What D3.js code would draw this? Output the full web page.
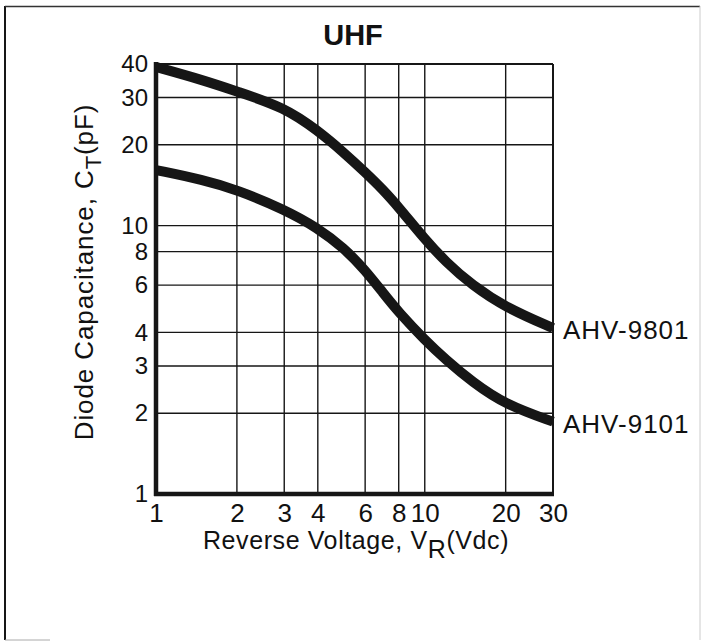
<!DOCTYPE html>
<html><head><meta charset="utf-8">
<script src="https://cdn.jsdelivr.net/npm/d3@7"></script>
<style>body{margin:0;background:#fff}svg{display:block}text{font-family:"Liberation Sans",Arial,sans-serif;fill:#111}</style>
</head><body><svg id="c" width="702" height="642"></svg>
<script>
const title = "UHF";
const xTicks = [1,2,3,4,6,8,10,20,30];
const yTicks = [1,2,3,4,6,8,10,20,30,40];
const voltage = [1,1.5,2,3,4,5,6,7,8,10,12,15,20,30];
const ahv9801 = [39,34.8,31.6,27.6,22.6,18.7,15.8,13.6,11.7,8.9,7.3,6.0,4.95,4.15];
const ahv9101 = [16.1,14.8,13.6,11.5,9.8,8.25,6.83,5.61,4.75,3.75,3.16,2.62,2.15,1.86];
const seriesNames = ["AHV-9801","AHV-9101"];

const svg = d3.select("#c");
const L=156,R=553,T=64,B=494;
const x = d3.scaleLog().domain([1,30]).range([L,R]);
const y = d3.scaleLog().domain([1,40]).range([B,T]);
const ink = "#161616";

// outer frame
svg.append("line").attr("x1",5).attr("x2",5).attr("y1",6).attr("y2",640).attr("stroke",ink).attr("stroke-width",2);
svg.append("line").attr("x1",5).attr("x2",700).attr("y1",6.5).attr("y2",6.5).attr("stroke","#333").attr("stroke-width",1.5);
svg.append("line").attr("x1",700).attr("x2",700).attr("y1",6).attr("y2",640).attr("stroke","#ccc").attr("stroke-width",1);
svg.append("line").attr("x1",5).attr("x2",50).attr("y1",640).attr("y2",640).attr("stroke","#aaa").attr("stroke-width",1);

// title
svg.append("text").attr("x",353).attr("y",45).attr("text-anchor","middle").attr("font-size",29).attr("font-weight","bold").text(title);

// grid
const g = svg.append("g");
g.selectAll(".vx").data(xTicks.filter(d=>d>1 && d<30)).join("line")
 .attr("x1",d=>x(d)).attr("x2",d=>x(d)).attr("y1",T).attr("y2",B).attr("stroke",ink).attr("stroke-width",1.4);
g.selectAll(".hy").data(yTicks.filter(d=>d>1 && d<40)).join("line")
 .attr("x1",L).attr("x2",R).attr("y1",d=>y(d)).attr("y2",d=>y(d)).attr("stroke",ink).attr("stroke-width",1.4);
g.append("line").attr("x1",L).attr("x2",R).attr("y1",T).attr("y2",T).attr("stroke",ink).attr("stroke-width",2);
g.append("line").attr("x1",R).attr("x2",R).attr("y1",T).attr("y2",B).attr("stroke",ink).attr("stroke-width",2);

// axes via d3
const xAxis = d3.axisBottom(x).tickValues(xTicks).tickFormat(d3.format("d")).tickSize(0).tickPadding(10);
const yAxis = d3.axisLeft(y).tickValues(yTicks).tickFormat(d3.format("d")).tickSize(0).tickPadding(8);
const gx = svg.append("g").attr("transform",`translate(0,${B})`).call(xAxis);
const gy = svg.append("g").attr("transform",`translate(${L},0)`).call(yAxis);
[gx,gy].forEach(a=>{a.select(".domain").remove();a.selectAll("text").attr("fill",ink).attr("font-family","Liberation Sans, Arial, sans-serif");});
gx.selectAll("text").attr("font-size",26).attr("dy","0.71em");
gy.selectAll("text").attr("font-size",24);

// data curves
const line = d3.line().x(d=>x(d[0])).y(d=>y(d[1])).curve(d3.curveBasis);
[ahv9801,ahv9101].forEach((s,i)=>{
  const pts = voltage.map((v,j)=>[v,s[j]]);
  svg.append("path").attr("d",line(pts)).attr("fill","none").attr("stroke",ink).attr("stroke-width",10).attr("stroke-linecap","butt");
  svg.append("text").attr("x",R+10).attr("y",y(s[s.length-1])+2).attr("dy","0.36em").attr("font-size",26).attr("letter-spacing",1).text(seriesNames[i]);
});

// thick left & bottom axes
svg.append("line").attr("x1",L).attr("x2",L).attr("y1",T-2).attr("y2",B+2).attr("stroke",ink).attr("stroke-width",4.5);
svg.append("line").attr("x1",L-2).attr("x2",R+1).attr("y1",B).attr("y2",B).attr("stroke",ink).attr("stroke-width",4.5);

// axis titles
const xt = svg.append("text").attr("x",356).attr("y",549).attr("text-anchor","middle").attr("font-size",25).attr("letter-spacing",0.6);
xt.append("tspan").text("Reverse Voltage, V");
xt.append("tspan").attr("dy",9).text("R");
xt.append("tspan").attr("dy",-9).text("(Vdc)");
const yt = svg.append("text").attr("transform","translate(93,272) rotate(-90)").attr("text-anchor","middle").attr("font-size",26).attr("letter-spacing",0.9);
yt.append("tspan").text("Diode Capacitance, C");
yt.append("tspan").attr("dy",8).attr("font-size",22).text("T");
yt.append("tspan").attr("dy",-8).text("(pF)");
</script></body></html>
